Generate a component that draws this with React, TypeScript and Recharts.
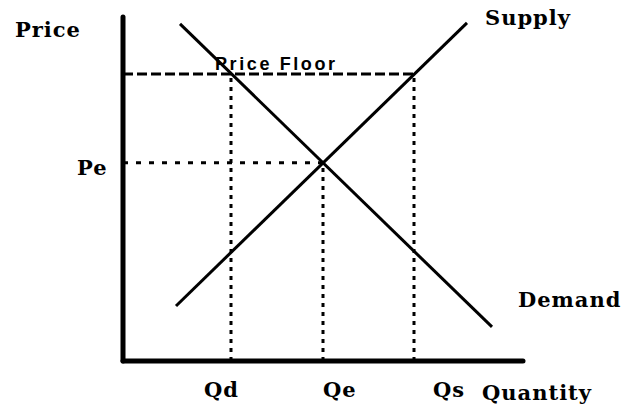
import { LineChart, Line, XAxis, YAxis, Label } from 'recharts';

// quantity (x) and price (y), both on a 0-100 scale
const supply = [
  { q: 13.25, p: 16 },
  { q: 86, p: 98.3 },
];
const demand = [
  { q: 14.25, p: 98 },
  { q: 92.25, p: 9.9 },
];

const qd = 27;
const qe = 50;
const qs = 72.75;
const pe = 57.6;
const priceFloor = 83.4;

const qTicks = [qd, qe, qs];
const qTickLabels = ['Qd', 'Qe', 'Qs'];
const pTicks = [pe];
const pTickLabels = ['Pe'];

const floorLine = [
  { q: 0, p: priceFloor },
  { q: qs, p: priceFloor },
];
const peLine = [
  { q: 0, p: pe },
  { q: qe, p: pe },
];
const qdLine = [
  { q: qd, p: 0 },
  { q: qd, p: priceFloor },
];
const qeLine = [
  { q: qe, p: 0 },
  { q: qe, p: pe },
];
const qsLine = [
  { q: qs, p: 0 },
  { q: qs, p: priceFloor },
];

const serif = {
  fontFamily: "'DejaVu Serif', serif",
  fontWeight: 'bold',
  fontSize: 21,
  letterSpacing: 1,
  fill: '#000',
};

// label offsets relative to the tick / line end
const qTickDx = [-27, 0, 19];

const QTick = (props: any) => {
  const i = qTicks.indexOf(props.payload.value);
  return (
    <text x={props.x + (qTickDx[i] ?? 0)} y={props.y + 36} {...serif}>
      {qTickLabels[i]}
    </text>
  );
};

const PTick = (props: any) => {
  const i = pTicks.indexOf(props.payload.value);
  return (
    <text x={props.x - 46} y={props.y + 12} {...serif}>
      {pTickLabels[i]}
    </text>
  );
};

const endLabel = (text: string, dx: number, dy: number, last: number) => (props: any) => {
  if (props.index !== last) return null;
  return (
    <text x={props.x + dx} y={props.y + dy} {...serif}>
      {text}
    </text>
  );
};

const floorLabel = (props: any) => {
  if (props.index !== 0) return null;
  return (
    <text
      x={props.x + 92}
      y={props.y - 4}
      fontFamily="'Liberation Sans', Arial, sans-serif"
      fontWeight="bold"
      fontSize={18}
      letterSpacing={2.6}
      fill="#000"
    >
      Price Floor
    </text>
  );
};

const axisStyle = { stroke: '#000', strokeWidth: 5, strokeLinecap: 'round' as const };

export default function App() {
  return (
    <div style={{ position: 'absolute', left: 0, top: 0, width: 626, height: 408, background: '#fff' }}>
      <LineChart width={626} height={408} margin={{ top: 17, right: 103, left: 63, bottom: 17 }}>
        <XAxis
          type="number"
          dataKey="q"
          domain={[0, 100]}
          ticks={qTicks}
          interval={0}
          tickLine={false}
          tickSize={0}
          tickMargin={0}
          tick={<QTick />}
          axisLine={axisStyle}
          height={30}
        >
          <Label
            content={() => (
              <text x={482} y={400} {...serif}>
                Quantity
              </text>
            )}
          />
        </XAxis>
        <YAxis
          type="number"
          dataKey="p"
          domain={[0, 100]}
          ticks={pTicks}
          interval={0}
          tickLine={false}
          tickSize={0}
          tickMargin={0}
          tick={<PTick />}
          axisLine={axisStyle}
          width={60}
        >
          <Label
            content={() => (
              <text x={15} y={37} {...serif}>
                Price
              </text>
            )}
          />
        </YAxis>
        <Line data={floorLine} dataKey="p" stroke="#000" strokeWidth={3} strokeDasharray="10 4" dot={false} activeDot={false} isAnimationActive={false} label={floorLabel} />
        <Line data={peLine} dataKey="p" stroke="#000" strokeWidth={3} strokeDasharray="5 8" dot={false} activeDot={false} isAnimationActive={false} />
        <Line data={qdLine} dataKey="p" stroke="#000" strokeWidth={3} strokeDasharray="4 5" dot={false} activeDot={false} isAnimationActive={false} />
        <Line data={qeLine} dataKey="p" stroke="#000" strokeWidth={3} strokeDasharray="4 5" dot={false} activeDot={false} isAnimationActive={false} />
        <Line data={qsLine} dataKey="p" stroke="#000" strokeWidth={3} strokeDasharray="4 5" dot={false} activeDot={false} isAnimationActive={false} />
        <Line data={supply} dataKey="p" stroke="#000" strokeWidth={3} dot={false} activeDot={false} isAnimationActive={false} label={endLabel('Supply', 18, 2, 1)} />
        <Line data={demand} dataKey="p" stroke="#000" strokeWidth={3} dot={false} activeDot={false} isAnimationActive={false} label={endLabel('Demand', 26, -20, 1)} />
      </LineChart>
    </div>
  );
}
